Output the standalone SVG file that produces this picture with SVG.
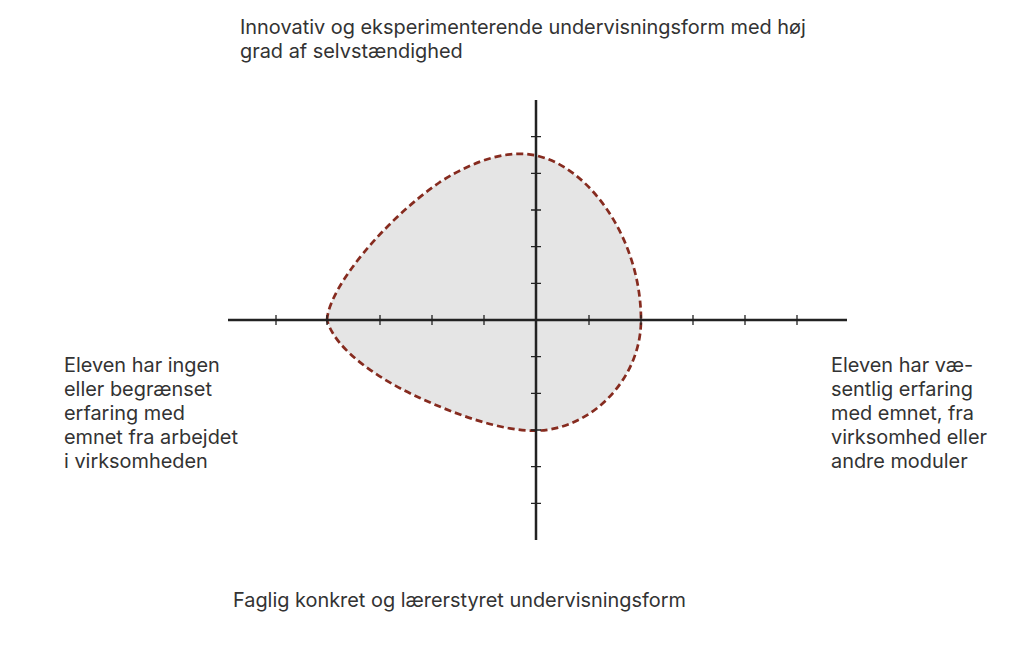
<svg xmlns="http://www.w3.org/2000/svg" width="1024" height="657" viewBox="0 0 1024 657">
<style>
.lbl{font-family:Inter,"Noto Sans","Liberation Sans",sans-serif;font-size:19.9px;fill:#333333}
.axis{stroke:#222222;stroke-width:2.5;fill:none}
.tick{stroke:#222222;stroke-width:1.3;fill:none}
.shape{fill:#e5e5e5;stroke:#862b1f;stroke-width:2.7;stroke-dasharray:7 4}
</style>
<rect width="1024" height="657" fill="#ffffff"/>
<g id="region">
<path class="shape" d="M327,320 C329,287 385,220 440,182 C478,158 510,150 536,155.5 C590,167 641,240 641,320 C641,380 590,430 536,430.7 C500,431 455,414 420,398 C380,380 335,350 327,320 Z"/>
</g>
<g id="connectors">
<line class="axis" x1="228" y1="320" x2="847" y2="320"/>
<line class="axis" x1="536" y1="100" x2="536" y2="540"/>
<path class="tick" d="M276,315v10M327,315v10M380,315v10M432,315v10M484,315v10M589,315v10M641,315v10M693,315v10M745,315v10M797,315v10"/>
<path class="tick" d="M531,136.7h10M531,173.3h10M531,210h10M531,246.7h10M531,283.3h10M531,356.7h10M531,393.3h10M531,430h10M531,466.7h10M531,503.3h10"/>
</g>
<g id="label-top">
<text class="lbl" x="240" y="34">Innovativ og eksperimenterende undervisningsform med høj</text>
<text class="lbl" x="240" y="58">grad af selvstændighed</text>
</g>
<g id="label-left">
<text class="lbl" x="64" y="372">Eleven har ingen</text>
<text class="lbl" x="64" y="396">eller begrænset</text>
<text class="lbl" x="64" y="420">erfaring med</text>
<text class="lbl" x="64" y="444">emnet fra arbejdet</text>
<text class="lbl" x="64" y="468">i virksomheden</text>
</g>
<g id="label-right">
<text class="lbl" x="831" y="372">Eleven har væ-</text>
<text class="lbl" x="831" y="396">sentlig erfaring</text>
<text class="lbl" x="831" y="420">med emnet, fra</text>
<text class="lbl" x="831" y="444">virksomhed eller</text>
<text class="lbl" x="831" y="468">andre moduler</text>
</g>
<g id="label-bottom">
<text class="lbl" x="233" y="607">Faglig konkret og lærerstyret undervisningsform</text>
</g>
</svg>
